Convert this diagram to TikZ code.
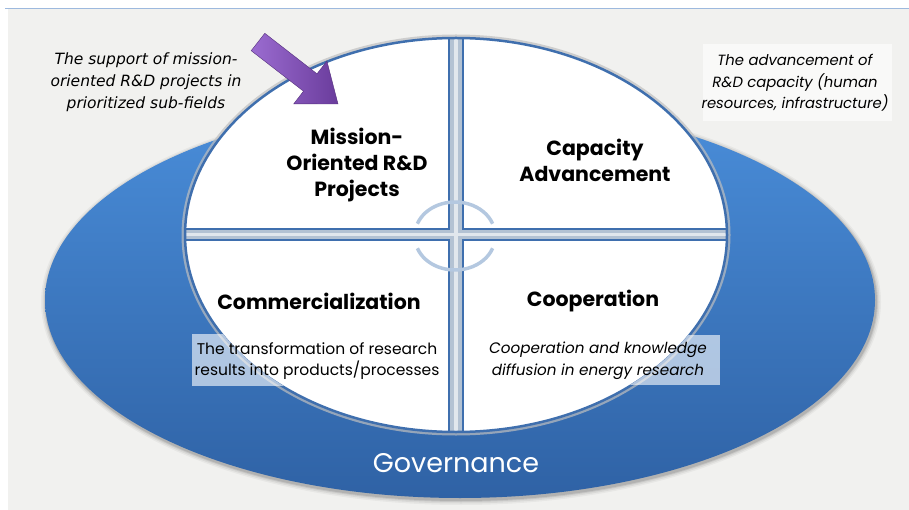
\documentclass[tikz,border=0pt]{standalone}
\usepackage{fontspec}
\setmainfont{Poppins}
\newfontfamily\dvs{DejaVu Sans}
\definecolor{bg}{HTML}{F1F1EF}
\definecolor{topline}{HTML}{9DB9DE}
\definecolor{blueTop}{HTML}{4A8EDA}
\definecolor{blueBot}{HTML}{2F62A5}
\definecolor{qborder}{HTML}{3F6FAE}
\definecolor{band}{HTML}{B3C2D3}
\definecolor{ring}{HTML}{B4C8E0}
\definecolor{purpL}{HTML}{9B6CD0}
\definecolor{purpD}{HTML}{6A3C9C}
\tikzset{
  mainlabel/.style={font=\bfseries\fontsize{20.5}{26}\selectfont, align=center, text=black},
  note/.style={font=\itshape\fontsize{15.2}{21.5}\selectfont, align=center, text=black},
  plainnote/.style={font=\fontsize{15.5}{20.5}\selectfont, align=center, text=black},
  glass/.style={fill=white, fill opacity=0.6, draw=none},
}
\begin{document}
\begin{tikzpicture}[x=1pt,y=-1pt]
\useasboundingbox (0,0) rectangle (909,510);
% background
\fill[bg] (8,9) rectangle (909,510);
\draw[topline, line width=1.2] (5,8.5) -- (909,8.5);
% ellipse shadow
\foreach \w/\o in {10/0.04,7/0.06,4/0.08,2/0.1}{
  \fill[black, opacity=\o] (461,302) ellipse [x radius=415+\w/2, y radius=198+\w/2];
}
% governance ellipse
\shade[top color=blueTop, bottom color=blueBot] (460,300) ellipse [x radius=415, y radius=198];
% circle halo
\draw[black!25, line width=7, opacity=0.7] (456,235) ellipse [x radius=271, y radius=197];
% white circle
\fill[white] (456,235) ellipse [x radius=271, y radius=197];
% cross band
\begin{scope}
  \clip (456,235) ellipse [x radius=271, y radius=197];
  \fill[band] (449,0) rectangle (463,510);
  \fill[band] (0,229) rectangle (909,240);
  \fill[white!60!band] (454,0) rectangle (458,510);
  \fill[white!60!band] (0,233) rectangle (909,236);
  \draw[qborder, line width=2] (449,0) -- (449,229) -- (0,229);
  \draw[qborder, line width=2] (463,0) -- (463,229) -- (909,229);
  \draw[qborder, line width=2] (449,510) -- (449,240) -- (0,240);
  \draw[qborder, line width=2] (463,510) -- (463,240) -- (909,240);
\end{scope}
\draw[qborder, line width=2.5] (456,235) ellipse [x radius=271, y radius=197];
% circular arrows
\draw[ring, line width=3.5] (455,235) ++(200:40 and 33) arc[start angle=200, end angle=340, x radius=40, y radius=33];
\draw[ring, line width=3.5] (455,237) ++(160:40 and 33) arc[start angle=160, end angle=20, x radius=40, y radius=33];
% purple arrow
\shade[left color=purpL, right color=purpD, draw=purpD!80!black, line width=0.4]
  (251.2,50.7) -- (264.8,33.3) -- (317.0,73.8) -- (326.9,61.1) -- (338,104)
  -- (293.7,103.9) -- (303.5,91.2) -- cycle;
% quadrant labels
\node[mainlabel] (mission) at (357,165) {Mission-\\Oriented R\&D\\Projects};
\node[mainlabel] (capacity) at (595,160) {Capacity\\Advancement};
\node[mainlabel] (commerc) at (319,301) {Commercialization};
\node[mainlabel] (coop) at (593,301) {Cooperation};
% glass boxes (only visible over the blue ring)
\begin{scope}[even odd rule]
  \clip (460,300) ellipse [x radius=415, y radius=198]
        (456,235) ellipse [x radius=270, y radius=196];
  \fill[glass] (192,334) rectangle (440,386);
  \fill[glass] (478,335) rectangle (720,385);
\end{scope}
\fill[glass] (703,44) rectangle (892,121);
\node[plainnote] (transf) at (317,361) {The transformation of research\\results into products/processes};
\node[note] (coopnote) at (598,361) {Cooperation and knowledge\\diffusion in energy research};
\node[note, font=\itshape\fontsize{14.8}{21.5}\selectfont] (capnote) at (795,83) {The advancement of\\R\&D capacity (human\\resources, infrastructure)};
\node[note, font=\dvs\itshape\fontsize{15.5}{22}\selectfont] (missnote) at (146,82) {The support of mission-\\oriented R\&D projects in\\prioritized sub-fields};
% governance
\node[text=white, font=\fontsize{27}{30}\selectfont] (gov) at (456,463) {Governance};
\end{tikzpicture}
\end{document}
